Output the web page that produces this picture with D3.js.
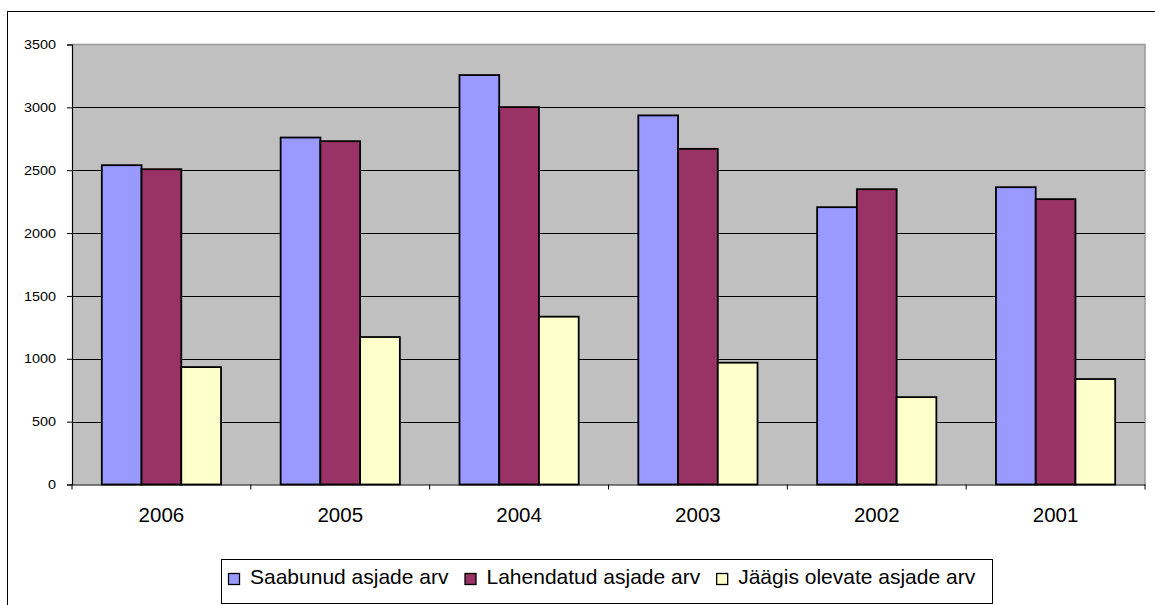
<!DOCTYPE html>
<html>
<head>
<meta charset="utf-8">
<script src="https://cdn.jsdelivr.net/npm/d3@7"></script>
<style>
  html, body { margin: 0; padding: 0; background: #fff; }
  svg { display: block; font-family: "Liberation Sans", Arial, sans-serif; }
</style>
</head>
<body>
<svg id="chart" width="1155" height="605"></svg>
<script>
const categories = ["2006", "2005", "2004", "2003", "2002", "2001"];
const seriesNames = ["Saabunud asjade arv", "Lahendatud asjade arv", "Jäägis olevate asjade arv"];
const saabunud = [2540, 2760, 3257, 2936, 2206, 2365];
const lahendatud = [2508, 2731, 3002, 2670, 2349, 2270];
const jaagis = [934, 1173, 1335, 969, 695, 839];
const yTicks = [0, 500, 1000, 1500, 2000, 2500, 3000, 3500];
const colors = ["#9999FF", "#993366", "#FFFFCC"];

const seriesValues = [saabunud, lahendatud, jaagis];

(function () {
const svg = d3.select("#chart");

// outer border
svg.append("rect")
  .attr("x", 7.5).attr("y", 11.5)
  .attr("width", 1160).attr("height", 600)
  .attr("fill", "#fff").attr("stroke", "#000").attr("stroke-width", 1);

const pLeft = 72, pRight = 1145, pTop = 44.5, pBottom = 484.5;

const x = d3.scaleBand().domain(categories).range([pLeft, pRight]).paddingInner(0).paddingOuter(0);
const bw = x.bandwidth();
const barW = bw / 4.5;
const xs = d3.scaleBand().domain(d3.range(seriesNames.length))
  .range([barW * 0.75, barW * 0.75 + barW * 3]).padding(0);
const y = d3.scaleLinear().domain([0, 3500]).range([pBottom, pTop]);

// plot background
svg.append("rect")
  .attr("x", pLeft).attr("y", pTop)
  .attr("width", pRight - pLeft).attr("height", pBottom - pTop)
  .attr("fill", "#C0C0C0");

// top & right plot border (grey)
svg.append("path")
  .attr("d", `M${pLeft},${pTop}H${pRight}V${pBottom}`)
  .attr("fill", "none").attr("stroke", "#999").attr("stroke-width", 1.5);

// gridlines
svg.append("g").selectAll("line")
  .data(yTicks.filter(t => t > 0 && t < 3500))
  .join("line")
  .attr("x1", pLeft).attr("x2", pRight)
  .attr("y1", d => Math.round(y(d)) + 0.5).attr("y2", d => Math.round(y(d)) + 0.5)
  .attr("stroke", "#000").attr("stroke-width", 1);

// bars
const groups = svg.append("g").selectAll("g")
  .data(categories)
  .join("g")
  .attr("transform", d => `translate(${x(d)},0)`);

groups.selectAll("rect")
  .data((c, i) => seriesValues.map((vals, s) => ({ s, v: vals[i] })))
  .join("rect")
  .attr("x", d => xs(d.s))
  .attr("y", d => y(d.v))
  .attr("width", xs.bandwidth())
  .attr("height", d => pBottom - y(d.v))
  .attr("fill", d => colors[d.s])
  .attr("stroke", "#000")
  .attr("stroke-width", 1.8);

// y axis
const yAxis = d3.axisLeft(y).tickValues(yTicks).tickSize(5).tickPadding(6).tickFormat(d3.format("d"));
const ya = svg.append("g").attr("transform", `translate(${pLeft},0)`).call(yAxis);
ya.select(".domain").attr("stroke", "#000").attr("stroke-width", 1.2);
ya.selectAll(".tick line").attr("stroke", "#000");
ya.selectAll(".tick text")
  .attr("font-size", 12).attr("fill", "#000")
  .attr("font-family", "Liberation Sans, Arial, sans-serif")
  .attr("dy", "0.35em")
  .each(function () {
    const t = d3.select(this);
    const xx = +t.attr("x");
    t.attr("x", null).attr("transform", `translate(${xx - 5},0) scale(1.2,1)`);
  });

// x axis
const xAxis = d3.axisBottom(x).tickSize(0).tickFormat(d => d);
const xa = svg.append("g").attr("transform", `translate(0,${pBottom})`).call(xAxis);
xa.select(".domain").attr("stroke", "#000").attr("stroke-width", 1.2);
xa.selectAll(".tick text")
  .attr("font-size", 20.5).attr("fill", "#000")
  .attr("font-family", "Liberation Sans, Arial, sans-serif")
  .attr("y", 37.5).attr("dy", 0);
// category boundary ticks
svg.append("g").selectAll("line")
  .data(d3.range(categories.length + 1))
  .join("line")
  .attr("x1", i => pLeft + i * bw).attr("x2", i => pLeft + i * bw)
  .attr("y1", pBottom).attr("y2", pBottom + 5)
  .attr("stroke", "#000");

// legend
const lg = svg.append("g");
lg.append("rect")
  .attr("x", 221.5).attr("y", 559.5).attr("width", 771).attr("height", 44)
  .attr("fill", "#fff").attr("stroke", "#000").attr("stroke-width", 1);

let cx = 228;
seriesNames.forEach((name, i) => {
  lg.append("rect")
    .attr("x", cx + 0.5).attr("y", 573.5).attr("width", 11).attr("height", 11)
    .attr("fill", colors[i]).attr("stroke", "#000").attr("stroke-width", 1.3);
  const t = lg.append("text")
    .attr("x", cx + 22).attr("y", 584)
    .attr("font-size", 21).attr("fill", "#000")
    .attr("font-family", "Liberation Sans, Arial, sans-serif")
    .text(name);
  cx = cx + 22 + t.node().getComputedTextLength() + 16;
});
})();
</script>
</body>
</html>
